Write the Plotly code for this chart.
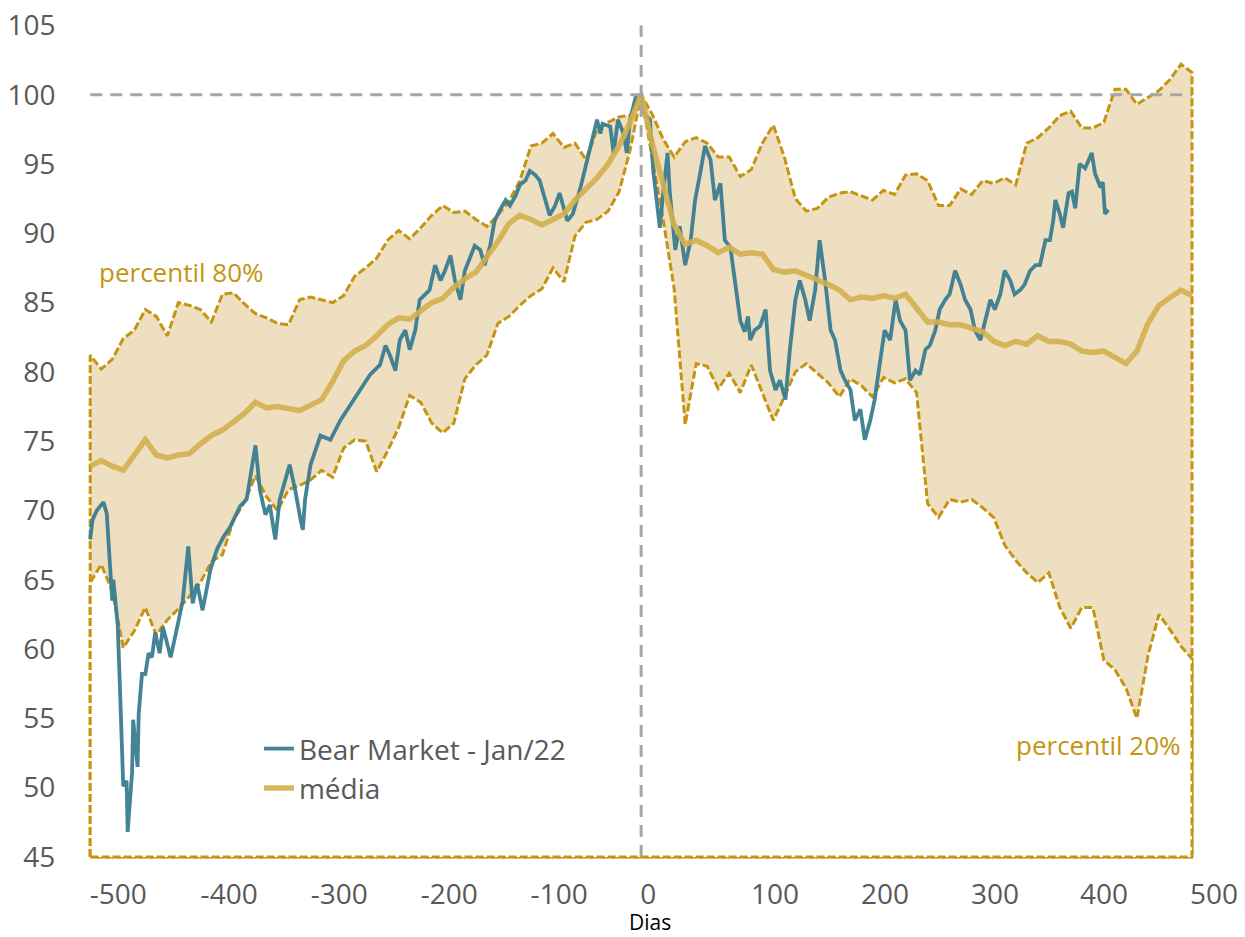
import plotly.graph_objects as go

# ---------------- data ----------------
DAYS = list(range(-500, 501, 10))

P80 = [81.2, 80.2, 80.9, 82.4, 83.0, 84.5, 84.0, 82.6, 85.0, 84.8,
       84.5, 83.6, 85.6, 85.7, 84.9, 84.2, 83.9, 83.5, 83.4, 85.2,
       85.4, 85.2, 85.0, 85.5, 86.9, 87.5, 88.2, 89.5, 90.2, 89.6,
       90.4, 91.3, 92.0, 91.5, 91.6, 91.0, 90.5, 91.3, 92.3, 93.8,
       96.3, 96.5, 97.2, 96.2, 96.5, 95.3, 97.5, 98.0, 98.4, 98.5,
       100.0, 98.6, 96.8, 95.5, 96.6, 96.9, 96.5, 95.5, 95.5, 94.1,
       94.6, 96.5, 97.8, 95.5, 92.5, 91.6, 91.8, 92.6, 92.9, 93.0,
       92.7, 92.4, 93.1, 92.8, 94.2, 94.3, 93.8, 92.0, 92.0, 93.2,
       92.8, 93.8, 93.6, 94.0, 93.5, 96.5, 96.9, 97.6, 98.5, 98.8,
       97.6, 97.6, 98.0, 100.4, 100.4, 99.3, 99.8, 100.3, 101.1, 102.2,
       101.6]

P20 = [64.8, 66.1, 64.2, 60.1, 61.3, 63.0, 61.0, 62.1, 62.9, 63.8,
       64.8, 66.3, 66.8, 69.3, 70.6, 72.5, 71.0, 70.0, 71.5, 71.8,
       72.2, 72.9, 72.4, 74.5, 75.1, 75.0, 72.8, 74.3, 76.0, 78.3,
       77.8, 76.3, 75.6, 76.3, 79.5, 80.5, 81.2, 83.5, 84.0, 84.8,
       85.5, 86.0, 87.5, 86.5, 89.8, 90.8, 91.0, 91.6, 93.0, 96.0,
       100.0, 95.5, 91.0, 86.0, 76.2, 80.6, 80.4, 78.8, 79.9, 78.5,
       80.5, 78.5, 76.5, 78.2, 80.0, 80.6, 79.9, 79.2, 78.2, 79.5,
       79.0, 78.2, 79.6, 79.2, 79.5, 78.5, 70.5, 69.5, 70.8, 70.6,
       70.8, 70.2, 69.5, 67.5, 66.4, 65.5, 64.8, 65.5, 63.0, 61.5,
       63.0, 63.0, 59.2, 58.5, 57.2, 55.0, 59.5, 62.5, 61.4, 60.2,
       59.3]

MEAN = [73.2, 73.6, 73.2, 72.9, 74.0, 75.1, 74.0, 73.8, 74.0, 74.1,
        74.8, 75.4, 75.8, 76.4, 77.0, 77.8, 77.4, 77.5, 77.3, 77.2,
        77.6, 78.0, 79.3, 80.8, 81.5, 81.9, 82.6, 83.4, 83.9, 83.8,
        84.4, 85.0, 85.3, 86.1, 86.7, 87.2, 88.3, 89.4, 90.7, 91.3,
        91.0, 90.6, 91.0, 91.4, 92.4, 93.2, 94.0, 95.0, 96.3, 98.0,
        100.0, 96.5, 93.6, 90.6, 89.2, 89.5, 89.1, 88.6, 89.0, 88.5,
        88.6, 88.5, 87.4, 87.2, 87.3, 87.0, 86.7, 86.3, 85.9, 85.2,
        85.4, 85.3, 85.5, 85.3, 85.6, 84.6, 83.6, 83.6, 83.4, 83.4,
        83.2, 82.9, 82.2, 81.9, 82.2, 82.0, 82.6, 82.2, 82.2, 82.0,
        81.5, 81.4, 81.5, 81.1, 80.6, 81.5, 83.5, 84.8, 85.3, 85.9,
        85.5]

BEAR_DAYS = [-500, -498, -494, -488, -485, -482, -480, -479, -477, -475,
             -473, -471, -470, -467, -466, -462, -461, -457, -456, -453,
             -450, -447, -444, -441, -437, -434, -427, -421, -416, -411,
             -407, -403, -398, -391, -385, -379, -373, -364, -358, -350,
             -346, -341, -337, -332, -328, -319, -314, -309, -307, -305,
             -300, -291, -282, -273, -264, -260, -255, -246, -237, -232,
             -228, -223, -219, -214, -210, -205, -201, -192, -187, -182,
             -178, -173, -169, -164, -160, -155, -151, -146, -142, -137,
             -133, -128, -123, -119, -114, -110, -105, -101, -96, -92,
             -87, -83, -78, -74, -67, -62, -55, -49, -44, -40,
             -37, -35, -28, -25, -21, -16, -13, -10, -5, 0,
             2, 8, 11, 15, 17, 20, 24, 26, 31, 35,
             40, 45, 49, 54, 58, 63, 67, 72, 76, 81,
             85, 90, 94, 97, 99, 103, 108, 113, 117, 122,
             126, 131, 135, 140, 144, 149, 153, 158, 162, 167,
             172, 176, 181, 185, 190, 194, 199, 203, 208, 212,
             217, 221, 226, 231, 235, 240, 244, 249, 253, 258,
             262, 267, 271, 276, 280, 285, 290, 294, 299, 303,
             308, 312, 317, 321, 326, 330, 335, 339, 344, 348,
             353, 358, 362, 367, 371, 374, 376, 380, 383, 388,
             391, 394, 398, 403, 409, 412, 417, 419, 421, 424]

BEAR = [67.9, 69.3, 70.0, 70.6, 69.8, 65.5, 63.5, 65.0, 63.0, 61.7,
        57.2, 53.0, 50.1, 50.5, 46.8, 51.1, 54.9, 51.5, 55.3, 58.2,
        58.2, 59.7, 59.4, 61.2, 59.7, 61.6, 59.4, 61.6, 63.5, 67.4,
        63.3, 64.7, 62.8, 65.7, 67.2, 68.1, 68.8, 70.3, 70.8, 74.7,
        71.5, 69.7, 70.4, 67.9, 70.8, 73.3, 71.5, 69.3, 68.6, 70.8,
        73.3, 75.4, 75.1, 76.5, 77.6, 78.0, 78.7, 79.8, 80.5, 81.9,
        81.2, 80.1, 82.3, 83.0, 81.6, 83.0, 85.2, 85.9, 87.7, 86.6,
        87.3, 88.4, 86.6, 85.2, 87.3, 88.4, 89.1, 88.8, 87.7, 89.1,
        90.9, 91.7, 92.4, 92.0, 92.7, 93.5, 93.8, 94.5, 94.2, 93.8,
        92.4, 91.3, 92.0, 92.9, 90.9, 91.4, 93.3, 95.3, 96.7, 98.2,
        97.2, 97.9, 97.7, 95.8, 98.2, 97.2, 95.8, 98.2, 99.8, 100.0,
        98.7, 98.2, 94.5, 91.9, 90.4, 92.9, 95.8, 93.0, 88.8, 90.5,
        87.7, 89.5, 92.4, 94.5, 96.3, 95.3, 92.4, 93.6, 89.5, 89.0,
        86.6, 83.7, 82.9, 84.0, 82.3, 83.0, 83.3, 84.5, 80.1, 78.7,
        79.4, 78.0, 81.6, 85.2, 86.6, 85.2, 83.7, 85.9, 89.5, 86.6,
        83.0, 82.3, 80.1, 79.4, 78.7, 76.5, 77.3, 75.1, 76.5, 78.0,
        80.8, 83.0, 82.3, 85.2, 83.7, 83.0, 79.4, 80.1, 79.8, 81.6,
        81.9, 83.0, 84.5, 85.2, 85.6, 87.3, 86.3, 85.2, 84.5, 83.0,
        82.3, 83.7, 85.2, 84.5, 85.6, 87.3, 86.6, 85.6, 85.9, 86.3,
        87.3, 87.7, 87.7, 89.5, 89.5, 90.9, 92.4, 91.4, 90.4, 92.9,
        93.0, 91.8, 95.0, 94.7, 95.8, 94.3, 93.3, 93.7, 91.4, 91.7]

Y_TICKS = list(range(45, 106, 5))
X_TICK_TEXT = ["-500", "-400", "-300", "-200", "-100", "0",
               "100", "200", "300", "400", "500"]
X_TICK_POS = [-474.6, -373.9, -274.0, -174.2, -74.4, 6.4,
              121.6, 221.4, 321.2, 420.1, 520.0]

AXIS_MIN = 45
REF_LEVEL = 100
PEAK_DAY = 0

# ---------------- styles ----------------
FONT = "Open Sans"
GOLD_DASH = "#C59410"
FILL_TAN = "#EEDFC1"
MEAN_COL = "#D4B04E"
BLUE = "#3B7E91"
GRAY = "#A6A6A6"
TEXT = "#595959"
DASH = "8px,3px"


def band(values):
    # closed outline: floor -> series -> floor -> back to start
    xs = [DAYS[0]] + DAYS + [DAYS[-1], DAYS[0]]
    ys = [AXIS_MIN] + values + [AXIS_MIN, AXIS_MIN]
    return xs, ys


fig = go.Figure()

x80, y80 = band(P80)
fig.add_trace(go.Scatter(
    x=x80, y=y80, mode="lines", fill="toself", fillcolor=FILL_TAN,
    line=dict(color=GOLD_DASH, width=3, dash=DASH),
    showlegend=False, hoverinfo="skip"))

x20, y20 = band(P20)
fig.add_trace(go.Scatter(
    x=x20, y=y20, mode="lines", fill="toself", fillcolor="white",
    line=dict(color=GOLD_DASH, width=3, dash=DASH),
    showlegend=False, hoverinfo="skip"))

fig.add_trace(go.Scatter(
    x=BEAR_DAYS, y=BEAR, mode="lines", name="Bear Market - Jan/22",
    line=dict(color=BLUE, width=3.8), opacity=0.95, legendgroup="a"))

fig.add_trace(go.Scatter(
    x=DAYS, y=MEAN, mode="lines", name="média",
    line=dict(color=MEAN_COL, width=5.5), opacity=0.9, legendgroup="b"))

# reference lines
fig.add_shape(type="line", xref="x", yref="y",
              x0=DAYS[0], x1=DAYS[-1], y0=REF_LEVEL, y1=REF_LEVEL,
              line=dict(color=GRAY, width=3, dash="12px,8px"), layer="above")
fig.add_shape(type="line", xref="x", yref="y",
              x0=PEAK_DAY, x1=PEAK_DAY, y0=AXIS_MIN, y1=Y_TICKS[-1],
              line=dict(color=GRAY, width=3, dash="12px,8px"), layer="above")

fig.add_annotation(x=-494, y=87.2, xref="x", yref="y", text="percentil 80%",
                   showarrow=False, xanchor="left", yanchor="middle",
                   font=dict(family=FONT, size=26, color=GOLD_DASH))
fig.add_annotation(x=492, y=53.1, xref="x", yref="y", text="percentil 20%",
                   showarrow=False, xanchor="right", yanchor="middle",
                   font=dict(family=FONT, size=26, color=GOLD_DASH))
fig.add_annotation(x=0.4965, y=-0.075, xref="paper", yref="paper", text="Dias",
                   showarrow=False, xanchor="center", yanchor="middle",
                   font=dict(family=FONT, size=21, color="#000000"))

# the page body adds an 8px margin, so the figure is 8px smaller and shifted
fig.update_layout(
    width=1237, height=929,
    margin=dict(l=80, r=25, t=17, b=78, autoexpand=False),
    paper_bgcolor="white", plot_bgcolor="white",
    font=dict(family=FONT, size=28, color=TEXT),
    showlegend=True,
    legend=dict(x=0.151, y=0.162, xanchor="left", yanchor="top",
                bgcolor="rgba(0,0,0,0)", font=dict(family=FONT, size=28, color=TEXT),
                tracegroupgap=0, traceorder="normal"),
)
fig.update_xaxes(range=[-502, 525.4], tickvals=X_TICK_POS, ticktext=X_TICK_TEXT,
                 showgrid=False, zeroline=False, showline=False, automargin=False,
                 ticks="outside", ticklen=10, tickcolor="rgba(0,0,0,0)",
                 ticklabeloverflow="allow",
                 tickfont=dict(family=FONT, size=28, color=TEXT))
fig.update_yaxes(range=[44.85, 105.03], tickvals=Y_TICKS,
                 showgrid=False, zeroline=False, showline=False, automargin=False,
                 ticks="outside", ticklen=26, tickcolor="rgba(0,0,0,0)",
                 ticklabeloverflow="allow",
                 tickfont=dict(family=FONT, size=28, color=TEXT))

fig.write_html("out.html")
